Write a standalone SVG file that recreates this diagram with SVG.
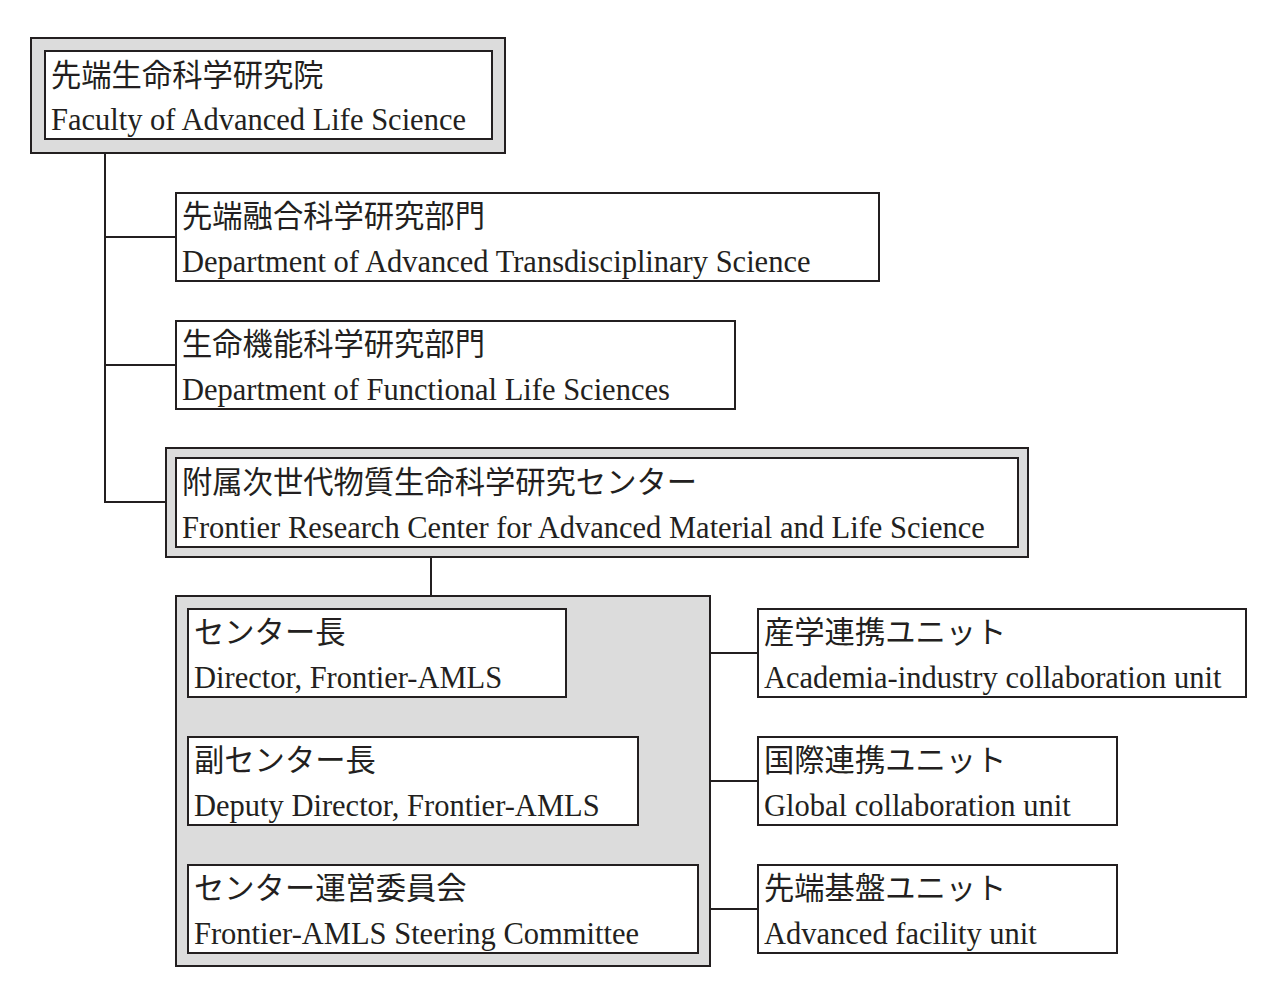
<svg xmlns="http://www.w3.org/2000/svg" width="1280" height="996" viewBox="0 0 1280 996">
<style>
.frame{fill:#dcdcdc;stroke:#231f20;stroke-width:2}
.box{fill:#ffffff;stroke:#231f20;stroke-width:2}
.ja{font-family:"Noto Sans CJK JP","Noto Sans CJK SC",sans-serif;font-size:30.3px;fill:#231f20}
.en{font-family:"Liberation Serif","Times New Roman",serif;font-size:30.5px;fill:#231f20}
.conn{fill:none;stroke:#231f20;stroke-width:2}
</style>
<rect width="1280" height="996" fill="#ffffff"/>
<g id="connectors" class="conn">
<path d="M105 154 V502 H165"/>
<path d="M105 237 H176"/>
<path d="M105 365 H176"/>
<path d="M431 557 V596"/>
<path d="M711 653 H758"/>
<path d="M711 781 H758"/>
<path d="M711 909 H758"/>
</g>
<g id="faculty">
<rect class="frame" x="31" y="38" width="474" height="115"/>
<rect class="box" x="45" y="51" width="447" height="88"/>
<text class="ja" x="51" y="86">先端生命科学研究院</text>
<text class="en" x="51" y="130">Faculty of Advanced Life Science</text>
</g>
<g id="dept-transdisciplinary">
<rect class="box" x="176" y="193" width="703" height="88"/>
<text class="ja" x="182" y="227">先端融合科学研究部門</text>
<text class="en" x="182" y="272">Department of Advanced Transdisciplinary Science</text>
</g>
<g id="dept-functional">
<rect class="box" x="176" y="321" width="559" height="88"/>
<text class="ja" x="182" y="355">生命機能科学研究部門</text>
<text class="en" x="182" y="400">Department of Functional Life Sciences</text>
</g>
<g id="frontier-center">
<rect class="frame" x="166" y="448" width="862" height="109"/>
<rect class="box" x="176" y="458" width="842" height="89"/>
<text class="ja" x="182" y="493">附属次世代物質生命科学研究センター</text>
<text class="en" x="182" y="538">Frontier Research Center for Advanced Material and Life Science</text>
</g>
<g id="center-panel">
<rect class="frame" x="176" y="596" width="534" height="370"/>
</g>
<g id="director">
<rect class="box" x="188" y="609" width="378" height="88"/>
<text class="ja" x="194" y="643">センター長</text>
<text class="en" x="194" y="688">Director, Frontier-AMLS</text>
</g>
<g id="deputy-director">
<rect class="box" x="188" y="737" width="450" height="88"/>
<text class="ja" x="194" y="771">副センター長</text>
<text class="en" x="194" y="816">Deputy Director, Frontier-AMLS</text>
</g>
<g id="steering-committee">
<rect class="box" x="188" y="865" width="510" height="88"/>
<text class="ja" x="194" y="899">センター運営委員会</text>
<text class="en" x="194" y="944">Frontier-AMLS Steering Committee</text>
</g>
<g id="academia-industry-unit">
<rect class="box" x="758" y="609" width="488" height="88"/>
<text class="ja" x="764" y="643">産学連携ユニット</text>
<text class="en" x="764" y="688">Academia-industry collaboration unit</text>
</g>
<g id="global-unit">
<rect class="box" x="758" y="737" width="359" height="88"/>
<text class="ja" x="764" y="771">国際連携ユニット</text>
<text class="en" x="764" y="816">Global collaboration unit</text>
</g>
<g id="facility-unit">
<rect class="box" x="758" y="865" width="359" height="88"/>
<text class="ja" x="764" y="899">先端基盤ユニット</text>
<text class="en" x="764" y="944">Advanced facility unit</text>
</g>
</svg>
